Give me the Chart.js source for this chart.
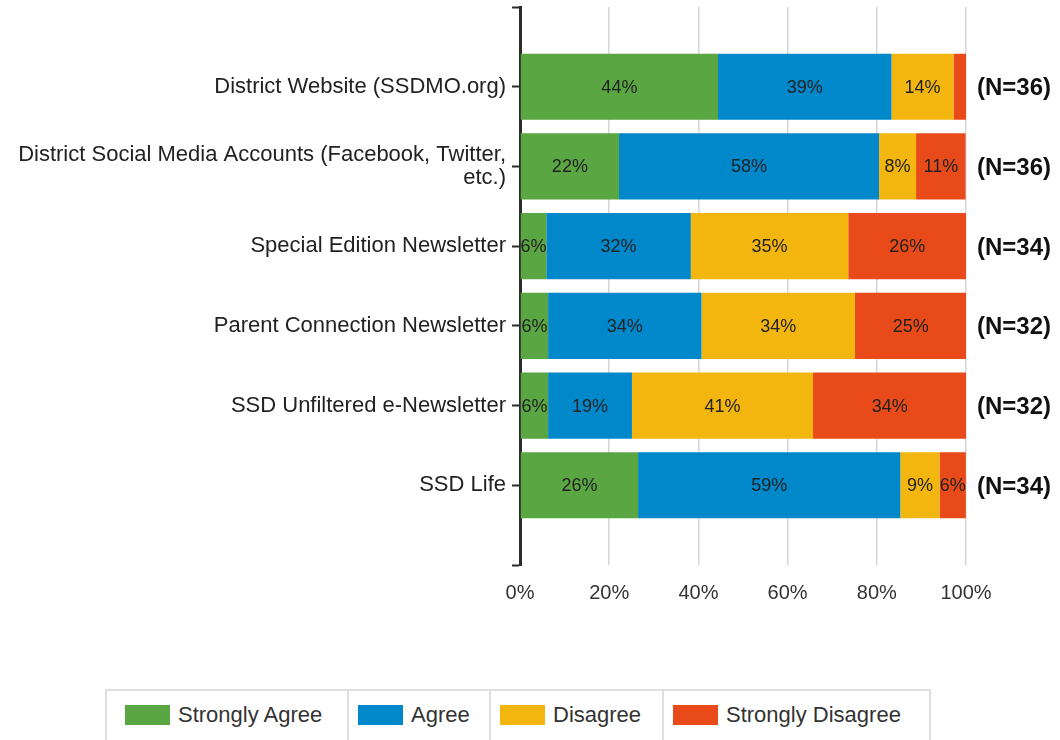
<!DOCTYPE html>
<html>
<head>
<meta charset="utf-8">
<script src="https://cdn.jsdelivr.net/npm/chart.js@4.4.1/dist/chart.umd.min.js"></script>
<style>
  html, body { margin: 0; padding: 0; background: #fff; }
  body { width: 1060px; height: 740px; position: relative; overflow: hidden; font-family: "Liberation Sans", Arial, sans-serif; }
  #wrap { position: absolute; left: 0; top: 0; width: 1060px; height: 625px; }
  #legend { position: absolute; left: 105px; top: 689px; height: 60px; display: flex; border: 2px solid #dedede; border-bottom: none; }
  .item { display: flex; align-items: center; box-sizing: border-box; height: 52px; padding: 0 0 0 9px; border-right: 2px solid #dedede; font-size: 22px; color: #333; }
  .item:nth-child(1) { width: 242px; padding-left: 18px; }
  .item:nth-child(2) { width: 142px; }
  .item:nth-child(3) { width: 173px; }
  .item:nth-child(4) { width: 265px; border-right: none; }
  .sw { width: 45px; height: 20px; margin-right: 8px; margin-top: -4px; flex: none; }
  .lbl { margin-top: -4px; white-space: nowrap; }
</style>
</head>
<body>
<div id="wrap"><canvas id="c"></canvas></div>
<div id="legend"></div>
<script>
const categories = [
  "District Website (SSDMO.org)",
  ["District Social Media Accounts (Facebook, Twitter,", "etc.)"],
  "Special Edition Newsletter",
  "Parent Connection Newsletter",
  "SSD Unfiltered e-Newsletter",
  "SSD Life"
];
const seriesNames = ["Strongly Agree", "Agree", "Disagree", "Strongly Disagree"];
const seriesColors = ["#5aa642", "#0088cb", "#f3b60f", "#e84b19"];
const stronglyAgree    = [44.4, 22.2,  5.9,  6.3,  6.3, 26.47];
const agree            = [38.9, 58.3, 32.4, 34.4, 18.8, 58.8];
const disagree         = [13.9,  8.3, 35.3, 34.4, 40.6,  8.8];
const stronglyDisagree = [ 2.8, 11.1, 26.47, 25.0, 34.4,  5.9];
const nCounts = ["(N=36)", "(N=36)", "(N=34)", "(N=32)", "(N=32)", "(N=34)"];
const xTicks = [0, 20, 40, 60, 80, 100];

const seriesValues = [stronglyAgree, agree, disagree, stronglyDisagree];
// pad the category axis with an empty slot at each end
const paddedLabels = ["", ...categories, ""];
const pad = arr => [null, ...arr, null];

const datasets = seriesNames.map((name, i) => ({
  label: name,
  data: pad(seriesValues[i]),
  backgroundColor: seriesColors[i],
  borderWidth: 0,
  barPercentage: 0.83,
  categoryPercentage: 1.0
}));

const valueLabels = {
  id: 'valueLabels',
  afterDatasetsDraw(chart) {
    const ctx = chart.ctx;
    ctx.save();
    ctx.font = '18px "Liberation Sans", Arial, sans-serif';
    ctx.fillStyle = '#222';
    ctx.textAlign = 'center';
    ctx.textBaseline = 'middle';
    chart.data.datasets.forEach((ds, di) => {
      const meta = chart.getDatasetMeta(di);
      meta.data.forEach((el, idx) => {
        const v = ds.data[idx];
        if (v == null || v < 5) return;
        const p = el.getProps(['x', 'y', 'base'], true);
        ctx.fillText(Math.round(v) + '%', (p.x + p.base) / 2, p.y + 1);
      });
    });
    // N labels
    const ys = chart.scales.y;
    ctx.font = 'bold 24px "Liberation Sans", Arial, sans-serif';
    ctx.fillStyle = '#111';
    ctx.textAlign = 'left';
    nCounts.forEach((t, i) => {
      ctx.fillText(t, chart.chartArea.right + 11, ys.getPixelForValue(i + 1) + 2);
    });
    ctx.restore();
  }
};

const chart = new Chart(document.getElementById('c'), {
  type: 'bar',
  data: { labels: paddedLabels, datasets },
  options: {
    indexAxis: 'y',
    responsive: true,
    maintainAspectRatio: false,
    animation: false,
    layout: { padding: { top: 7, right: 94, bottom: 0, left: 0 } },
    plugins: { legend: { display: false }, tooltip: { enabled: false } },
    scales: {
      x: {
        type: 'linear',
        stacked: true,
        min: 0, max: 100,
        afterBuildTicks: s => { s.ticks = xTicks.map(v => ({ value: v })); },
        afterFit: s => { s.height = 60; s.paddingLeft = 0; s.paddingRight = 0; },
        ticks: {
          callback: v => v + '%',
          font: { size: 20, family: '"Liberation Sans", Arial, sans-serif' },
          color: '#333',
          padding: 16
        },
        grid: { color: '#d6d6d6', lineWidth: 1.5, drawTicks: false },
        border: { display: false }
      },
      y: {
        type: 'category',
        stacked: true,
        offset: false,
        afterFit: s => { s.width = 520; s.paddingTop = 0; s.paddingBottom = 0; },
        ticks: {
          font: { size: 22, family: '"Liberation Sans", Arial, sans-serif', lineHeight: 1.05 },
          color: '#222',
          padding: 6,
          autoSkip: false
        },
        grid: { offset: false, drawOnChartArea: false, drawTicks: true, tickLength: 8, tickColor: '#2b2b2b', tickWidth: 2 },
        border: { display: true, color: '#2b2b2b', width: 3 }
      }
    }
  },
  plugins: [valueLabels]
});

// HTML legend built from the chart's datasets
const legend = document.getElementById('legend');
chart.data.datasets.forEach(ds => {
  const item = document.createElement('div');
  item.className = 'item';
  const sw = document.createElement('span');
  sw.className = 'sw';
  sw.style.background = ds.backgroundColor;
  const lb = document.createElement('span');
  lb.className = 'lbl';
  lb.textContent = ds.label;
  item.appendChild(sw); item.appendChild(lb);
  legend.appendChild(item);
});
</script>
</body>
</html>
